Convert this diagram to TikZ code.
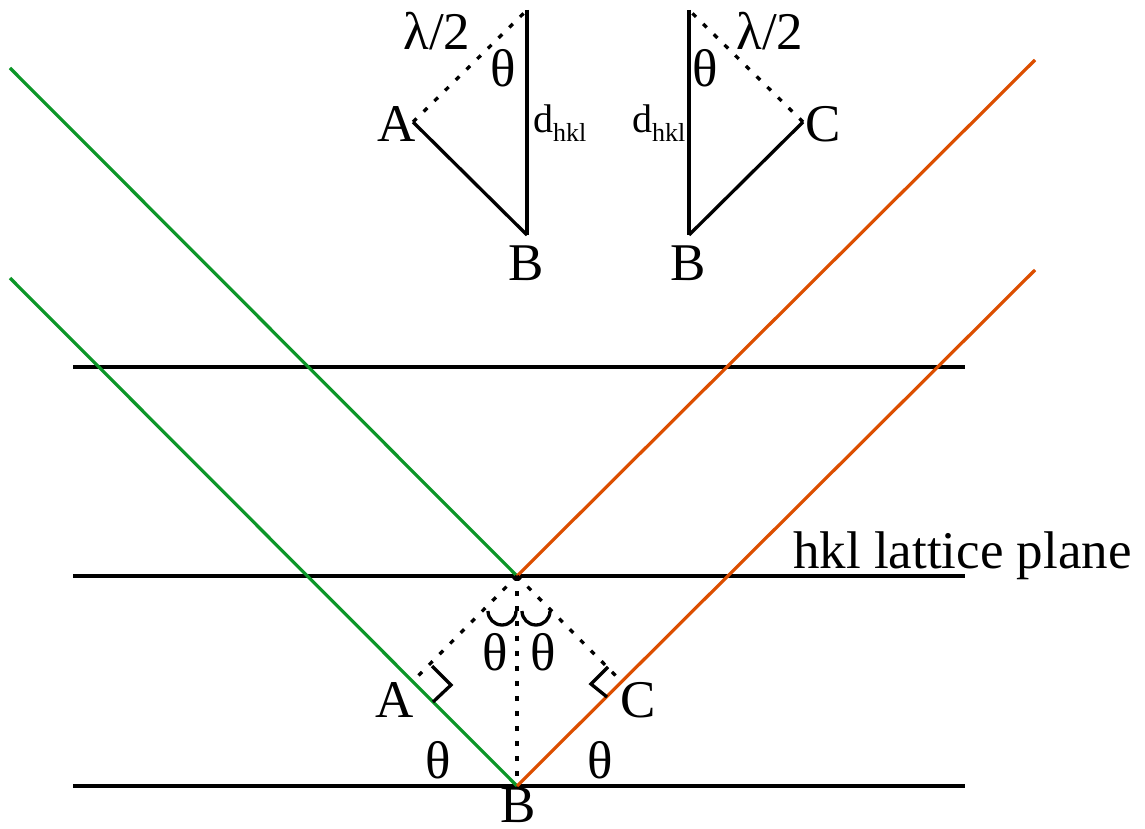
\documentclass[tikz,border=0pt]{standalone}
\usepackage{fontspec}
\setmainfont{Liberation Serif}
\definecolor{raygreen}{RGB}{12,150,40}
\definecolor{rayorange}{RGB}{220,78,0}
\tikzset{
  plane/.style={line width=3.3pt, black},
  inray/.style={line width=3.2pt, raygreen},
  outray/.style={line width=3.2pt, rayorange},
  solidline/.style={line width=3.3pt, black},
  dotline/.style={line width=3.3pt, black, dash pattern=on 5pt off 10pt},
  marker/.style={line width=3.3pt, black},
  lbl/.style={anchor=base, inner sep=0pt, font=\fontsize{53}{56}\selectfont},
  dlbl/.style={anchor=base west, inner sep=0pt},
}
\newcommand{\dhkl}{{\fontsize{40}{42}\selectfont d}\raisebox{-9pt}{\fontsize{26}{27}\selectfont hkl}}
\begin{document}
\begin{tikzpicture}[x=1pt,y=-1pt]
\useasboundingbox (0,0) rectangle (1145,829);
% lattice planes
\coordinate (p1l) at (73,367); \coordinate (p1r) at (965,367);
\coordinate (p2l) at (73,576); \coordinate (p2r) at (965,576);
\coordinate (p3l) at (73,786); \coordinate (p3r) at (965,786);
\draw[plane] (p1l) -- (p1r);
\draw[plane] (p2l) -- (p2r);
\draw[plane] (p3l) -- (p3r);
% rays
\coordinate (apex) at (517,576);
\coordinate (bot) at (517,786);
\coordinate (g1) at (10,68); \coordinate (g2) at (10,278);
\coordinate (o1) at (1035,60); \coordinate (o2) at (1035,270);
\draw[inray] (g1) -- (apex);
\draw[inray] (g2) -- (bot);
\draw[outray] (apex) -- (o1);
\draw[outray] (bot) -- (o2);
% construction lines
\coordinate (footA) at (413,681);
\coordinate (footC) at (621,681);
\draw[dotline] (apex) -- (bot);
\draw[dotline] (apex) -- (footA);
\draw[dotline] (apex) -- (footC);
% small arcs
\coordinate (arcL) at (488,611);
\coordinate (arcR) at (522,611);
\draw[marker] (arcL) arc[start angle=180, end angle=0, radius=14];
\draw[marker] (arcR) arc[start angle=180, end angle=0, radius=14];
% right-angle markers
\coordinate (mA1) at (433,702); \coordinate (mA2) at (451,685); \coordinate (mA3) at (432,666);
\coordinate (mC1) at (607,697); \coordinate (mC2) at (591,684); \coordinate (mC3) at (608,667);
\draw[marker] (mA1) -- (mA2) -- (mA3);
\draw[marker] (mC1) -- (mC2) -- (mC3);
% labels lower part
\node[lbl] (thL) at (495,670) {θ};
\node[lbl] (thR) at (543,670) {θ};
\node[lbl] (lA) at (395,717) {A};
\node[lbl] (lC) at (638,717) {C};
\node[lbl] (thBL) at (438,778) {θ};
\node[lbl] (thBR) at (600,778) {θ};
\node[lbl] (lB) at (518,822) {B};
\node[lbl, anchor=base west] (plane) at (793,568) {hkl lattice plane};
% top-left triangle
\coordinate (tlTop) at (527,10);
\coordinate (tlB) at (527,235);
\coordinate (tlA) at (413,122);
\draw[solidline] (tlTop) -- (tlB);
\draw[solidline] (tlA) -- (tlB);
\draw[dotline] (tlA) -- (tlTop);
\node[lbl] (tlLam) at (437,50) {λ/2};
\node[lbl] (tlTh) at (503,87) {θ};
\node[lbl] (tlAl) at (397,142) {A};
\node[dlbl] (tlD) at (533,133) {\dhkl};
\node[lbl] (tlBl) at (526,280) {B};
% top-right triangle
\coordinate (trTop) at (689,10);
\coordinate (trB) at (689,235);
\coordinate (trC) at (803,122);
\draw[solidline] (trTop) -- (trB);
\draw[solidline] (trB) -- (trC);
\draw[dotline] (trC) -- (trTop);
\node[lbl] (trLam) at (770,50) {λ/2};
\node[lbl] (trTh) at (705,87) {θ};
\node[lbl] (trCl) at (823,142) {C};
\node[dlbl] (trD) at (632,133) {\dhkl};
\node[lbl] (trBl) at (688,280) {B};
\end{tikzpicture}
\end{document}
